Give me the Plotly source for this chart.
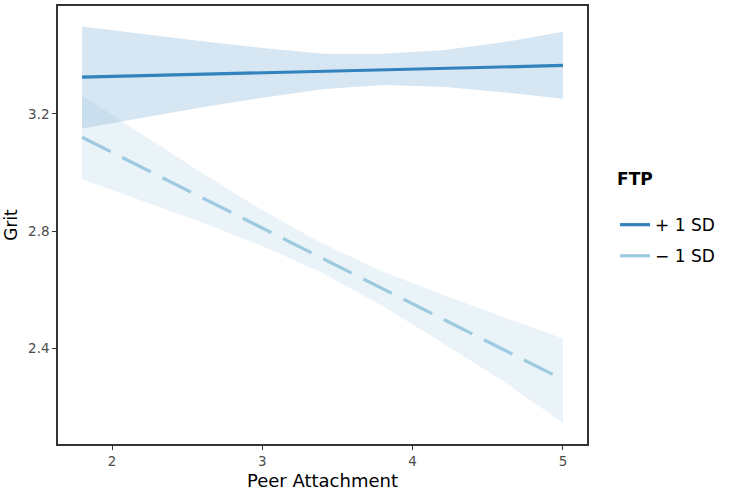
import plotly.graph_objects as go

# ---- data ----
band_x = [1.8, 2.2, 2.6, 3.0, 3.4, 3.8, 4.2, 4.6, 5.0]
plus_upper = [3.498, 3.472, 3.448, 3.425, 3.405, 3.405, 3.417, 3.444, 3.480]
plus_lower = [3.150, 3.187, 3.222, 3.255, 3.284, 3.298, 3.292, 3.274, 3.251]
minus_upper = [3.263, 3.130, 2.997, 2.871, 2.757, 2.662, 2.582, 2.507, 2.433]
minus_lower = [2.977, 2.904, 2.829, 2.749, 2.657, 2.544, 2.418, 2.288, 2.145]

line_x = [1.8, 5.0]
plus_line = [3.325, 3.365]
minus_line = [3.120, 2.293]

series_names = ["+ 1 SD", "\u2212 1 SD"]
x_ticks = [2, 3, 4, 5]
y_ticks = [2.4, 2.8, 3.2]

FONT = "DejaVu Sans, Liberation Sans, Arial, sans-serif"
dark_blue = "#3182bd"
light_blue = "#9ecae1"

fig = go.Figure()

fig.add_trace(go.Scatter(
    x=band_x + band_x[::-1], y=plus_upper + plus_lower[::-1],
    fill="toself", fillcolor="rgba(49,130,189,0.2)", line=dict(width=0),
    mode="lines", showlegend=False, hoverinfo="skip"))
fig.add_trace(go.Scatter(
    x=band_x + band_x[::-1], y=minus_upper + minus_lower[::-1],
    fill="toself", fillcolor="rgba(158,202,225,0.22)", line=dict(width=0),
    mode="lines", showlegend=False, hoverinfo="skip"))

fig.add_trace(go.Scatter(
    x=line_x, y=plus_line, mode="lines", name=series_names[0],
    line=dict(color=dark_blue, width=3.2), legendgroup="a"))
fig.add_trace(go.Scatter(
    x=line_x, y=minus_line, mode="lines", name=series_names[1],
    line=dict(color=light_blue, width=3.2, dash="32px,13px"), legendgroup="b"))

axis_common = dict(
    showgrid=False, zeroline=False, showline=True, mirror=True,
    linecolor="#333333", linewidth=1.5, ticks="outside", ticklen=4,
    tickcolor="#333333", tickwidth=1.2,
    tickfont=dict(family=FONT, size=13.5, color="#4d4d4d"),
)

fig.update_layout(
    width=739, height=494,
    margin=dict(l=58, r=152, t=4, b=50),
    paper_bgcolor="white", plot_bgcolor="white",
    font=dict(family=FONT),
    xaxis=dict(range=[1.64, 5.16], tickvals=x_ticks,
               title=dict(text="Peer Attachment", font=dict(family=FONT, size=18, color="black"), standoff=6),
               **axis_common),
    yaxis=dict(range=[2.073, 3.568], tickvals=y_ticks, tickformat=".1f",
               title=dict(text="Grit", font=dict(family=FONT, size=17, color="black"), standoff=6),
               **axis_common),
    legend=dict(
        title=dict(text="<b>FTP</b><br><span style='font-size:12px'> </span>",
                   font=dict(family=FONT, size=17, color="black")),
        font=dict(family=FONT, size=17, color="black"),
        x=1.053, xanchor="left", y=0.515, yanchor="middle",
        tracegroupgap=6, bgcolor="rgba(0,0,0,0)",
    ),
)

fig.write_html("out.html", config={"displayModeBar": False},
               post_script="document.body.style.margin='0';")
